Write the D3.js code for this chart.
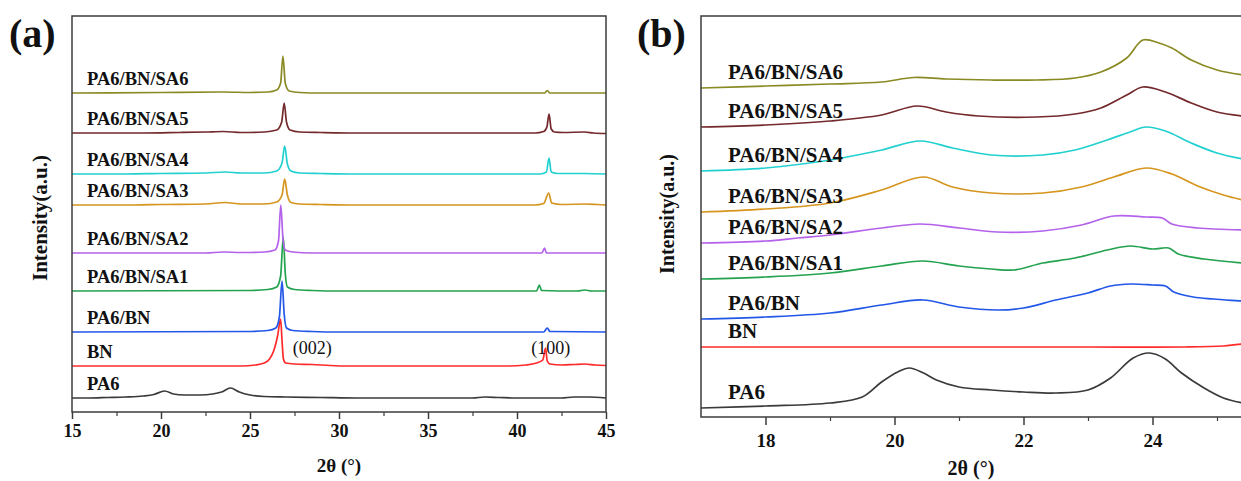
<!DOCTYPE html>
<html><head><meta charset="utf-8">
<script src="https://cdn.jsdelivr.net/npm/d3@7"></script>
<style>
html,body{margin:0;padding:0;background:#fff;}
svg text{font-family:"Liberation Serif","Times New Roman",serif;}
</style></head>
<body><svg id="c" width="1241" height="481"></svg>
<script>
// ---------------- data ----------------
const seriesNames = ["PA6","BN","PA6/BN","PA6/BN/SA1","PA6/BN/SA2","PA6/BN/SA3","PA6/BN/SA4","PA6/BN/SA5","PA6/BN/SA6"];
const seriesColors = ["#3a3a3a","#ff2b2b","#2257e8","#23a24f","#b462ea","#d6951e","#22d0d0","#74292c","#8a8a24"];

// panel (a): stacking offsets (a.u.) and curves [2theta, intensity above offset]
const offsetsA = [14, 46, 80, 121, 159, 207, 238, 279, 319];
const pa6A = [[15,0],[16,0],[17,0.5],[18,1],[19,2],[19.6,3.5],[20.2,7],[20.7,4],[21.3,3],[22.2,3],[22.9,4],[23.4,6],[23.9,10],[24.4,6],[25,3],[25.8,1.5],[27,1],[29,0.5],[31,0],[37.5,0],[38.2,1],[39,0.5],[40,0],[42.5,0],[43.2,1],[44,1],[45,0]];
const bnA = [[15,0],[24.5,0],[25.3,1],[25.8,3],[26.1,7],[26.35,16],[26.55,30],[26.72,47],[26.8,25],[26.88,7],[27.0,3],[27.5,2],[28.5,1.5],[29.5,0.5],[30.5,0],[39.5,0],[40.5,1],[41.1,3],[41.45,6],[41.6,18],[41.7,5],[41.85,2],[42.5,1],[43.2,1.5],[43.8,2],[44.4,1],[45,0.5]];
const pa6bnA = [[15,0],[25,0.5],[26,1.5],[26.45,4],[26.65,15],[26.8,51],[26.92,18],[27.05,4],[27.4,1.5],[28.5,0.5],[30,0],[41.5,0],[41.7,4],[41.85,0.5],[45,0]];
const sa1A = [[15,0],[25,0.5],[26,1.5],[26.5,4],[26.72,15],[26.87,54],[26.98,18],[27.1,4],[27.5,1.5],[28.5,0.5],[30,0],[41.1,0],[41.25,6],[41.38,0.5],[43.4,0],[43.8,1],[44.2,0],[45,0]];
const sa2A = [[15,0],[22.5,0],[23.5,1],[24.5,0.5],[25.8,1],[26.4,3],[26.6,12],[26.73,48],[26.85,15],[26.98,3],[27.4,1],[28.5,0],[41.4,0],[41.55,5],[41.65,0],[45,0]];
const sa3A = [[15,0],[18.5,0],[20,0.5],[22.5,1],[23.6,2.5],[24.5,1],[25.8,1],[26.5,3],[26.8,10],[26.95,26],[27.1,10],[27.3,2.5],[27.8,1],[29,0.5],[31,0],[41,0],[41.5,1.5],[41.78,12],[41.95,2],[42.5,0.5],[43.8,1],[44.5,0.5],[45,0]];
const sa4A = [[15,0],[18,0],[20,0.5],[22.5,1],[23.6,2],[24.5,1],[25.8,1],[26.5,3],[26.8,11],[26.95,28],[27.1,10],[27.3,3],[27.8,1],[29,0.5],[31,0],[41.3,0],[41.65,2],[41.8,16],[41.92,2],[42.3,0.5],[43.8,0.5],[45,0]];
const sa5A = [[15,0],[19,0],[21,0.5],[22.5,1],[23.5,1.5],[24.5,0.5],[25.8,1],[26.5,3],[26.78,11],[26.92,30],[27.05,11],[27.25,3],[27.8,1],[29,0.5],[31,0],[41,0],[41.5,1.5],[41.68,6],[41.8,19],[41.92,4],[42.1,1],[42.6,0.5],[43.8,1],[44.3,0],[45,-0.5]];
const sa6A = [[15,0],[20,0.5],[23.5,1],[25,0.5],[26,1],[26.5,3],[26.72,10],[26.85,37],[26.98,10],[27.2,2],[27.8,0.5],[29,0],[41.55,0],[41.7,2.5],[41.85,0],[45,0]];
const curvesA = [pa6A, bnA, pa6bnA, sa1A, sa2A, sa3A, sa4A, sa5A, sa6A];

// panel (b)
const offsetsB = [9, 70, 98, 138, 174, 205, 246, 290, 329];
const pa6B = [[17,0],[18,2],[19,5],[19.5,11],[19.8,26],[20.05,36],[20.23,40],[20.45,35],[20.65,28],[21.0,21],[21.5,18],[22.0,16],[22.5,15],[23.0,18],[23.35,30],[23.7,50],[23.95,55],[24.2,49],[24.45,35],[24.8,20],[25.1,10],[25.4,5]];
const bnB = [[17,0],[20,0],[23,0],[24.5,0],[25.1,1],[25.4,3]];
const pa6bnB = [[17,0],[18,2],[19,6],[19.8,14],[20.44,19],[21.0,12],[21.6,9],[22.0,11],[22.5,19],[23.0,26],[23.35,33],[23.66,35],[24.0,34],[24.2,33],[24.33,27],[24.63,22],[24.94,20],[25.4,18]];
const sa1B = [[17,0],[18,2],[19,6],[19.8,13],[20.44,18],[21.0,13],[21.5,10],[21.85,9],[22.3,16],[22.8,21],[23.3,29],[23.66,33],[24.0,30],[24.25,31],[24.4,25],[24.8,20],[25.4,16]];
const sa2B = [[17,0],[18,2],[18.5,5],[19,8],[19.8,15],[20.4,19],[21.0,15],[21.6,11],[22.3,12],[22.9,18],[23.4,27],[23.9,26],[24.15,25],[24.3,19],[24.7,15],[25.4,13]];
const sa3B = [[17,0],[18,3],[19,9],[19.8,22],[20.45,35],[20.9,25],[21.5,19],[22.3,19],[22.9,25],[23.4,35],[23.9,44],[24.3,38],[24.7,26],[25.1,17],[25.4,12]];
const sa4B = [[17,0],[18,3],[19,11],[19.8,21],[20.4,30],[20.9,23],[21.5,16],[22.3,16],[22.8,21],[23.3,31],[23.65,39],[23.9,44],[24.2,40],[24.6,28],[25.0,18],[25.4,12]];
const sa5B = [[17,0],[18,2],[19,6],[19.8,12],[20.35,21],[20.8,15],[21.3,11],[22.2,10],[22.8,13],[23.2,19],[23.6,32],[23.85,40],[24.2,35],[24.6,24],[25.0,15],[25.4,11]];
const sa6B = [[17,0],[18,2],[19,4],[19.8,6],[20.3,10.5],[20.8,9],[21.5,8],[22.2,8],[22.8,10],[23.2,16],[23.6,30],[23.85,48],[24.1,45],[24.3,40],[24.6,28],[25.0,18],[25.4,13]];
const curvesB = [pa6B, bnB, pa6bnB, sa1B, sa2B, sa3B, sa4B, sa5B, sa6B];

const ticksA = [15,20,25,30,35,40,45];
const minorTicksA = [17.5,22.5,27.5,32.5,37.5,42.5];
const ticksB = [18,20,22,24];
const minorTicksB = [19,21,23,25];
const peakLabels = [{text:"(002)", x:27.4}, {text:"(100)", x:40.8}];
const peakLabelLevel = 58; // a.u. in panel (a)

// ---------------- drawing ----------------
const svg = d3.select("#c");
const frameColor = "#3c3c3c";

function panel(cfg){
  const g = svg.append("g");
  const x = d3.scaleLinear().domain(cfg.xDomain).range(cfg.xRange);
  const y = d3.scaleLinear().domain(cfg.yDomain).range(cfg.yRange);
  const clipId = "clip" + cfg.id;
  svg.append("clipPath").attr("id", clipId).append("rect")
    .attr("x", cfg.xRange[0]).attr("y", cfg.yRange[1])
    .attr("width", cfg.xRange[1]-cfg.xRange[0]).attr("height", cfg.yRange[0]-cfg.yRange[1]);
  const line = d3.line().curve(cfg.curve);
  const lg = g.append("g").attr("clip-path", `url(#${clipId})`);
  cfg.curves.forEach((c,i)=>{
    lg.append("path")
      .attr("d", line(c.map(p=>[x(p[0]), y(cfg.offsets[i]+p[1])])))
      .attr("fill","none").attr("stroke", seriesColors[i]).attr("stroke-width",1.7)
      .attr("stroke-linejoin","round");
  });
  // labels
  seriesNames.forEach((n,i)=>{
    g.append("text").attr("x", cfg.labelX).attr("y", y(cfg.offsets[i]) - cfg.labelDy)
      .attr("font-size", cfg.labelSize).attr("font-weight","bold").attr("fill","#111").text(n);
  });
  // frame
  g.append("rect").attr("x", cfg.xRange[0]).attr("y", cfg.yRange[1])
    .attr("width", cfg.xRange[1]-cfg.xRange[0]).attr("height", cfg.yRange[0]-cfg.yRange[1])
    .attr("fill","none").attr("stroke",frameColor).attr("stroke-width",1.5);
  // axes
  const ax = g.append("g").attr("transform",`translate(0,${cfg.yRange[0]})`)
    .call(d3.axisBottom(x).tickValues(cfg.ticks).tickSize(cfg.tickLen).tickPadding(cfg.tickPad).tickFormat(d3.format("d")));
  ax.select(".domain").remove();
  ax.selectAll("line").attr("stroke",frameColor).attr("stroke-width",1.5);
  ax.selectAll("text").attr("font-size",cfg.tickSize).attr("font-weight","bold").attr("fill","#111")
    .style("font-family",'"Liberation Serif","Times New Roman",serif');
  const mx = g.append("g").attr("transform",`translate(0,${cfg.yRange[0]})`)
    .call(d3.axisBottom(x).tickValues(cfg.minor).tickSize(4).tickFormat(""));
  mx.select(".domain").remove();
  mx.selectAll("line").attr("stroke",frameColor).attr("stroke-width",1.2);
  // axis titles
  g.append("text").attr("x", cfg.xTitleX).attr("y", cfg.xTitleY).attr("text-anchor","middle")
    .attr("font-size", cfg.xTitleSize).attr("font-weight","bold").attr("fill","#111").text("2θ (°)");
  g.append("text").attr("transform",`translate(${cfg.yTitleX},${cfg.yTitleY}) rotate(-90)`)
    .attr("text-anchor","middle").attr("font-size",cfg.yTitleSize).attr("font-weight","bold").attr("fill","#111")
    .text("Intensity(a.u.)");
  g.append("text").attr("x", cfg.tagX).attr("y", 47).attr("font-size",40).attr("font-weight","bold").attr("fill","#111").text(cfg.tag);
  return {g,x,y};
}

const A = panel({id:"a", xDomain:[15,45], xRange:[72,606], yDomain:[0,396], yRange:[412,16],
  curves:curvesA, offsets:offsetsA, curve:d3.curveMonotoneX, labelX:87, labelDy:8, labelSize:18.5,
  ticks:ticksA, minor:minorTicksA, tickLen:7, tickPad:5, tickSize:18,
  xTitleX:339, xTitleY:472, xTitleSize:19, yTitleX:47, yTitleY:218, yTitleSize:21,
  tag:"(a)", tagX:9});

peakLabels.forEach(p=>{
  A.g.append("text").attr("x", A.x(p.x)).attr("y", A.y(peakLabelLevel)).attr("font-size",18).attr("fill","#111").text(p.text);
});

const B = panel({id:"b", xDomain:[17,26], xRange:[701,1281.5], yDomain:[0,401], yRange:[417,16],
  curves:curvesB, offsets:offsetsB, curve:d3.curveCatmullRom.alpha(0.5), labelX:728, labelDy:9, labelSize:21,
  ticks:ticksB, minor:minorTicksB, tickLen:8, tickPad:9, tickSize:19,
  xTitleX:971, xTitleY:475, xTitleSize:20, yTitleX:674, yTitleY:214, yTitleSize:20,
  tag:"(b)", tagX:637});
</script></body></html>
